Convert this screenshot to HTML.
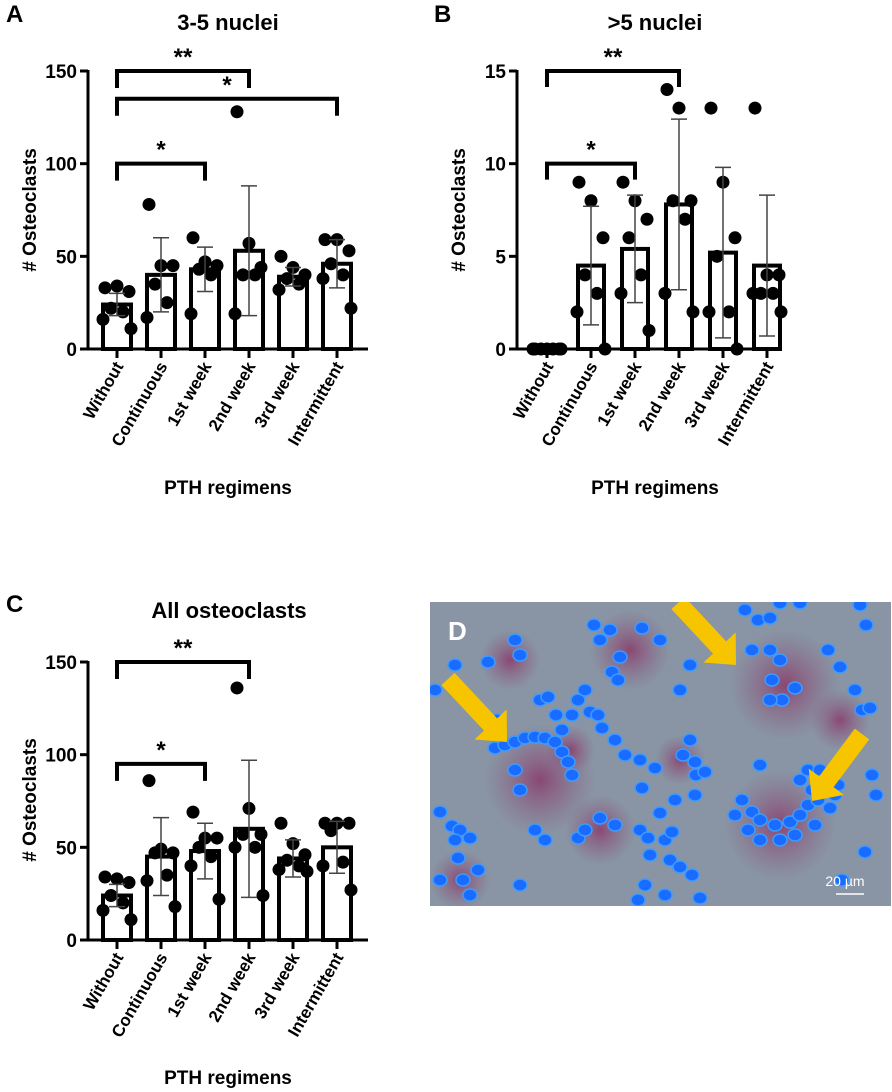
<!DOCTYPE html>
<html><head><meta charset="utf-8"><style>
body{margin:0;background:#fff;width:892px;height:1092px;overflow:hidden;font-family:"Liberation Sans",Arial,sans-serif}
svg{position:absolute;left:0;top:0}
</style></head><body>
<svg id="fig" width="892" height="1092"></svg>
<script>
const categories=["Without","Continuous","1st week","2nd week","3rd week","Intermittent"];
// Panel A
const aMeans=[24,40,43,53,39,46];
const aSD=[6,20,12,35,5,13];
const aPoints=[[33,34,31,22,20,16,11],[78,45,45,35,25,17],[60,47,45,43,40,19],[128,57,44,40,40,19],[50,44,40,38,35,32],[59,59,53,46,40,38,22]];
const aTicks=[0,50,100,150];
const aBrackets=[[0,3,150,"**"],[0,5,135,"*"],[0,2,100,"*"]];
// Panel B
const bMeans=[0,4.5,5.4,7.8,5.2,4.5];
const bSD=[0,3.2,2.9,4.6,4.6,3.8];
const bPoints=[[0,0,0,0,0,0,0],[9,8,6,4,3,2,0],[9,8,7,6,4,3,1],[14,13,8,8,7,3,2],[13,9,6,5,2,2,0],[13,4,4,3,3,3,2]];
const bTicks=[0,5,10,15];
const bBrackets=[[0,3,15,"**"],[0,2,10,"*"]];
// Panel C
const cMeans=[24,45,48,60,44,50];
const cSD=[6,21,15,37,10,14];
const cPoints=[[34,33,31,24,20,16,11],[86,49,47,47,35,32,18],[69,55,55,50,45,40,22],[136,71,57,57,50,50,24],[63,52,46,43,40,38,37],[63,63,63,59,42,40,27]];
const cTicks=[0,50,100,150];
const cBrackets=[[0,3,150,"**"],[0,2,95,"*"]];

const NS="http://www.w3.org/2000/svg";
const svg=document.getElementById('fig');
function mk(tag,attrs,parent,text){const e=document.createElementNS(NS,tag);for(const k in attrs)e.setAttribute(k,attrs[k]);if(text!==undefined)e.textContent=text;(parent||svg).appendChild(e);return e;}
const jit=[-12,0,12,-6,6,-14,14];

function panel(cfg){
  const g=mk('g',{});
  
  
  const y=v=>cfg.y0-(v/cfg.max)*(cfg.y0-cfg.yTop);
  const x=i=>cfg.x0+cfg.first+i*cfg.step;
  const letter=mk('text',{x:cfg.lx,y:cfg.ly,'font-size':24,'font-weight':'bold'},g,cfg.letter);
  
  
  const t=mk('text',{x:cfg.tx,y:cfg.ty,'font-size':22,'font-weight':'bold','text-anchor':'middle'},g,cfg.title);
  
  
  const ya=mk('line',{x1:cfg.x0,y1:cfg.yTop-1,x2:cfg.x0,y2:cfg.y0+1.5,stroke:'#000','stroke-width':3},g);
  
  
  const xa=mk('line',{x1:cfg.x0-1.5,y1:cfg.y0,x2:cfg.x0+cfg.xlen,y2:cfg.y0,stroke:'#000','stroke-width':3},g);
  
  
  cfg.ticks.forEach(v=>{
    mk('line',{x1:cfg.x0-8,y1:y(v),x2:cfg.x0,y2:y(v),stroke:'#000','stroke-width':3},g);
    const tl=mk('text',{x:cfg.x0-11,y:y(v)+7,'font-size':19,'font-weight':'bold','text-anchor':'end'},g,String(v));
    
    
  });
  const yt=mk('text',{x:0,y:0,'font-size':19,'font-weight':'bold','text-anchor':'middle',transform:`translate(${cfg.ytx},${cfg.yty}) rotate(-90)`},g,'# Osteoclasts');
  
  
  const xt=mk('text',{x:cfg.xtx,y:cfg.xty,'font-size':19,'font-weight':'bold','text-anchor':'middle'},g,'PTH regimens');
  
  
  categories.forEach((c,i)=>{
    const cx=x(i);
    mk('line',{x1:cx,y1:cfg.y0,x2:cx,y2:cfg.y0+9,stroke:'#000','stroke-width':3},g);
    const lb=mk('text',{x:0,y:0,'font-size':17,'font-weight':'bold','text-anchor':'end',transform:`translate(${cx+7},${cfg.y0+17}) rotate(-60)`},g,c);
    
    
    const m=cfg.means[i],bw=cfg.bw;
    if(m>0){
      const r=mk('rect',{x:cx-bw/2,y:y(m),width:bw,height:cfg.y0-y(m),fill:'#fff',stroke:'#000','stroke-width':4},g);
      
      
    }
    cfg.points[i].forEach((p,j)=>{
      const d=mk('circle',{cx:cx+jit[j%7],cy:y(p),r:6.5,fill:'#000'},g);
      
      
    });
    const sd=cfg.sd[i];
    if(sd>0){
      const hi=y(m+sd),lo=y(Math.max(0,m-sd));
      const eb=mk('path',{d:`M${cx},${lo}V${hi}M${cx-8},${hi}H${cx+8}M${cx-8},${lo}H${cx+8}`,stroke:'#444','stroke-width':1.5,fill:'none'},g);
      
      
    }
  });
  cfg.brackets.forEach(b=>{
    const x1=x(b[0]),x2=x(b[1]),yy=y(b[2]);const leg=cfg.leg;
    const br=mk('path',{d:`M${x1},${yy+leg}V${yy}H${x2}V${yy+leg}`,stroke:'#000','stroke-width':4,fill:'none'},g);
    
    
    const st=mk('text',{x:(x1+x2)/2,y:yy-6,'font-size':24,'font-weight':'bold','text-anchor':'middle'},g,b[3]);
    
    
  });
}
panel({name:'panel-a-chart',letter:'A',lx:6,ly:22,title:'3-5 nuclei',tx:228,ty:30,x0:88,y0:349,yTop:71,max:150,xlen:280,first:29,step:44,bw:28,leg:17,
  means:aMeans,sd:aSD,points:aPoints,ticks:aTicks,brackets:aBrackets,ytx:36,yty:210,xtx:228,xty:494});
panel({name:'panel-b-chart',letter:'B',lx:434,ly:22,title:'>5 nuclei',tx:655,ty:30,x0:517,y0:349,yTop:71,max:15,xlen:262,first:30,step:44,bw:26,leg:16,
  means:bMeans,sd:bSD,points:bPoints,ticks:bTicks,brackets:bBrackets,ytx:465,yty:210,xtx:655,xty:494});
panel({name:'panel-c-chart',letter:'C',lx:6,ly:612,title:'All osteoclasts',tx:229,ty:618,x0:88,y0:940,yTop:662,max:150,xlen:280,first:29,step:44,bw:28,leg:17,
  means:cMeans,sd:cSD,points:cPoints,ticks:cTicks,brackets:cBrackets,ytx:36,yty:800,xtx:228,xty:1084});

// Panel D micrograph
const defs=mk('defs',{});
const rg=mk('radialGradient',{id:'pur'},defs);
mk('stop',{offset:'0','stop-color':'#8a3a6a','stop-opacity':'0.85'},rg);
mk('stop',{offset:'1','stop-color':'#8a5a80','stop-opacity':'0'},rg);
const cp=mk('clipPath',{id:'dclip'},defs);
mk('rect',{x:430,y:602,width:461,height:304},cp);
const D=mk('g',{'clip-path':'url(#dclip)'});


mk('rect',{x:430,y:602,width:461,height:304,fill:'#8994a4'},D);
[[540,780,55],[785,685,55],[780,825,55],[630,650,40],[510,660,30],[600,830,35],[460,880,30],[840,720,30],[680,760,25],[570,750,25]].forEach(p=>mk('circle',{cx:p[0],cy:p[1],r:p[2],fill:'url(#pur)'},D));
const nuc=[[495,748],[505,745],[515,742],[525,738],[535,737],[545,738],[555,742],[562,752],[568,762],[572,775],[515,770],[520,790],[540,700],[548,697],[556,715],[562,730],[572,715],[578,700],[585,690],[590,712],[598,715],[602,728],[620,657],[612,672],[618,680],[594,625],[600,640],[610,630],[642,628],[660,640],[680,690],[690,665],[745,610],[758,620],[770,618],[780,603],[752,650],[770,650],[780,660],[772,680],[782,700],[770,700],[795,688],[800,603],[828,650],[840,667],[860,605],[866,625],[855,690],[862,710],[870,708],[835,795],[742,800],[752,812],[760,820],[775,825],[790,822],[800,815],[808,805],[812,790],[800,780],[808,770],[820,770],[818,800],[830,808],[748,830],[760,840],[780,840],[795,835],[815,825],[735,815],[760,765],[838,785],[872,775],[876,795],[865,852],[842,880],[690,740],[683,755],[695,762],[696,775],[695,795],[705,772],[675,800],[660,813],[615,740],[625,755],[640,760],[655,768],[642,788],[600,818],[615,825],[640,830],[648,838],[665,840],[672,832],[670,860],[680,867],[692,875],[665,895],[700,898],[645,885],[650,855],[638,900],[578,838],[585,830],[545,840],[535,830],[440,812],[452,826],[460,830],[470,838],[455,840],[458,858],[478,870],[440,880],[463,880],[470,895],[455,665],[435,690],[520,885],[490,725],[497,720],[470,700],[488,662],[515,640],[520,655]];
nuc.forEach(p=>{mk('ellipse',{cx:p[0],cy:p[1],rx:7,ry:6,fill:'#1a6bff',stroke:'#3f9cff','stroke-width':1.5},D);});
function arrow(x1,y1,x2,y2){
  const a=Math.atan2(y2-y1,x2-x1),L=Math.hypot(x2-x1,y2-y1),hw=9,hh=22,hl=24;
  const tr=mk('g',{transform:`translate(${x1},${y1}) rotate(${a*180/Math.PI})`},D);
  
  
  mk('polygon',{points:`0,${-hw} ${L-hl},${-hw} ${L-hl},${-hh} ${L},0 ${L-hl},${hh} ${L-hl},${hw} 0,${hw}`,fill:'#f7c500'},tr);
}
arrow(448,679,507,742);
arrow(678,603,736,665);
arrow(862,734,812,801);
const dl=mk('text',{x:448,y:640,'font-size':26,'font-weight':'bold',fill:'#fff'},D,'D');


const sb=mk('text',{x:845,y:886,'font-size':14,fill:'#fff','text-anchor':'middle'},D,'20 µm');


const sl=mk('line',{x1:836,y1:894,x2:864,y2:894,stroke:'#fff','stroke-width':1.5},D);


</script>
</body></html>
